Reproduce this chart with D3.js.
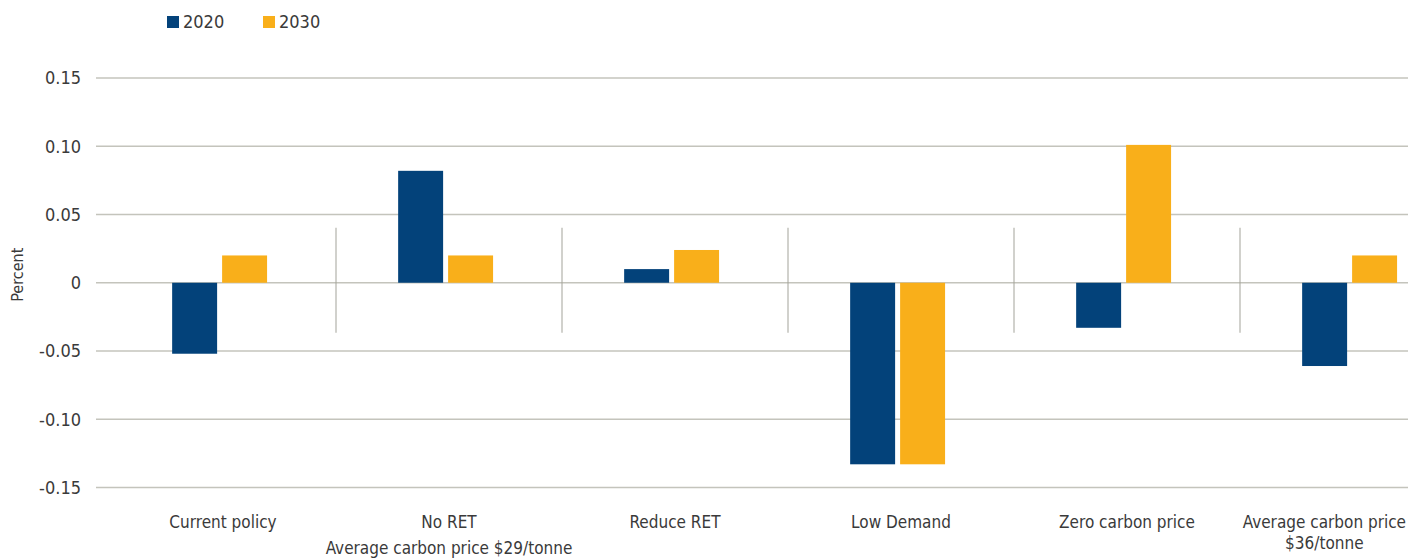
<!DOCTYPE html>
<html>
<head>
<meta charset="utf-8">
<script src="https://cdn.jsdelivr.net/npm/d3@7"></script>
<style>
  body { margin: 0; background: #fff; }
  svg text { font-family: "DejaVu Sans Condensed", "DejaVu Sans", sans-serif; font-stretch: condensed; fill: #3a3a3a; }
</style>
</head>
<body>
<div id="chart"></div>
<script>
const categories = ["Current policy", "No RET", "Reduce RET", "Low Demand", "Zero carbon price", "Average carbon price"];
const categoryLines = [
  ["Current policy"],
  ["No RET", "Average carbon price $29/tonne"],
  ["Reduce RET"],
  ["Low Demand"],
  ["Zero carbon price"],
  ["Average carbon price", "$36/tonne"]
];
const seriesNames = ["2020", "2030"];
const values2020 = [-0.052, 0.082, 0.01, -0.133, -0.033, -0.061];
const values2030 = [0.02, 0.02, 0.024, -0.133, 0.101, 0.02];
const yTicks = [0.15, 0.10, 0.05, 0, -0.05, -0.10, -0.15];
const yTickLabels = ["0.15", "0.10", "0.05", "0", "-0.05", "-0.10", "-0.15"];

const colors = { "2020": "#03427a", "2030": "#f9af1a" };

const width = 1408;
const height = 560;

const svg = d3.select("#chart")
  .append("svg")
  .attr("width", width)
  .attr("height", height);

// scales
const x0 = d3.scaleBand()
  .domain(categories)
  .range([110, 1466])
  .padding(0);
const x1 = d3.scaleBand()
  .domain(seriesNames)
  .range([x0.bandwidth() * 0.275, x0.bandwidth() * 0.695])
  .paddingInner(0.1);
const y = d3.scaleLinear()
  .domain([-0.15, 0.15])
  .range([487.5, 78]);

// gridlines
svg.append("g")
  .selectAll("line")
  .data(yTicks)
  .join("line")
  .attr("x1", 96)
  .attr("x2", width)
  .attr("y1", (d) => y(d))
  .attr("y2", (d) => y(d))
  .attr("stroke", "#c4c4bc")
  .attr("stroke-width", 1.5);

// y labels
svg.append("g")
  .selectAll("text")
  .data(yTicks)
  .join("text")
  .attr("x", 81)
  .attr("y", (d) => y(d))
  .attr("dy", "0.35em")
  .attr("text-anchor", "end")
  .style("font-size", "18px")
  .text((d, i) => yTickLabels[i]);

svg.append("text")
  .attr("transform", `translate(23, ${y(0) - 8}) rotate(-90)`)
  .attr("text-anchor", "middle")
  .style("font-size", "16px")
  .text("Percent");

// category dividers
svg.append("g")
  .selectAll("line")
  .data(categories.slice(1))
  .join("line")
  .attr("x1", (d) => x0(d))
  .attr("x2", (d) => x0(d))
  .attr("y1", y(0) - 55)
  .attr("y2", y(0) + 50)
  .attr("stroke", "#a3a39a")
  .attr("stroke-width", 1);

// bars
const rows = categories.map((c, i) => ({ cat: c, values: [values2020[i], values2030[i]] }));
svg.append("g")
  .selectAll("g")
  .data(rows)
  .join("g")
  .attr("transform", (d) => `translate(${x0(d.cat)},0)`)
  .selectAll("rect")
  .data((d) => d.values.map((v, j) => ({ key: seriesNames[j], v })))
  .join("rect")
  .attr("x", (d) => x1(d.key))
  .attr("width", x1.bandwidth())
  .attr("y", (d) => y(Math.max(0, d.v)))
  .attr("height", (d) => Math.abs(y(d.v) - y(0)))
  .attr("fill", (d) => colors[d.key]);

// x labels (kept inside the right edge)
const xl = svg.append("g")
  .selectAll("text")
  .data(categories)
  .join("text")
  .attr("text-anchor", "middle")
  .attr("y", 528)
  .style("font-size", "17px");
xl.each(function (d, i) {
  const t = d3.select(this);
  const c = x0(d) + x0.bandwidth() / 2;
  categoryLines[i].forEach((line, k) => {
    t.append("tspan").attr("x", c).attr("dy", k === 0 ? 0 : (i === 1 ? 26 : 21)).text(line);
  });
  const w = this.getBBox().width;
  const cx = Math.min(c, width - w / 2 - 2);
  t.selectAll("tspan").attr("x", cx);
});

// legend
const legend = svg.append("g").attr("transform", "translate(167, 16)");
seriesNames.forEach((s, i) => {
  const g = legend.append("g").attr("transform", `translate(${i * 96}, 0)`);
  g.append("rect").attr("width", 12).attr("height", 12).attr("fill", colors[s]);
  g.append("text").attr("x", 16).attr("y", 6).attr("dy", "0.36em")
    .style("font-size", "18px").text(s);
});
</script>
</body>
</html>
